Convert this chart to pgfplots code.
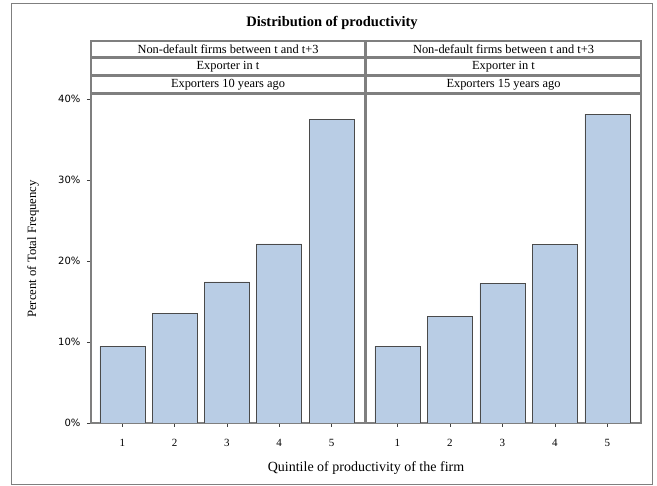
\documentclass[border=0pt]{standalone}
\usepackage{pgfplots}
\pgfplotsset{compat=1.18}
\usepackage{fontspec}
\setmainfont{Liberation Serif}
\newfontfamily\tickfont{DejaVu Sans}
\definecolor{barfill}{HTML}{B9CDE5}
\definecolor{baredge}{HTML}{4A4A4A}
\definecolor{framegray}{HTML}{7F7F7F}
\pgfplotstableread{
q pct
1 9.45
2 13.5
3 17.4
4 22.1
5 37.5
}\leftdata
\pgfplotstableread{
q pct
1 9.45
2 13.2
3 17.2
4 22.0
5 38.1
}\rightdata
\begin{document}
\begin{tikzpicture}[x=1pt,y=1pt]
\useasboundingbox (0,0) rectangle (657,486);
\fill[white] (0,0) rectangle (657,486);
\draw[framegray, line width=1pt] (11,1) rectangle (652.5,482);
\node[font=\bfseries\fontsize{14.5}{16}\selectfont] at (332,463) {Distribution of productivity};
% strips
\foreach \xa/\xb/\lab in {91/365/{Exporters 10 years ago},366/641/{Exporters 15 years ago}}{
  \draw[framegray, line width=1.5pt] (\xa,429) rectangle (\xb,445);
  \draw[framegray, line width=1.5pt] (\xa,411) rectangle (\xb,427.5);
  \draw[framegray, line width=1.5pt] (\xa,393.5) rectangle (\xb,409.5);
  \node[font=\fontsize{12.4}{13}\selectfont] at ({(\xa+\xb)/2},437) {Non-default firms between t and t+3};
  \node[font=\fontsize{12.4}{13}\selectfont] at ({(\xa+\xb)/2},419.25) {Exporter in t};
  \node[font=\fontsize{12.4}{13}\selectfont] at ({(\xa+\xb)/2},401.5) {\lab};
}
\pgfplotsset{
  panel/.style={
    scale only axis, anchor=south west,
    height=329pt,
    xmin=0.4, xmax=5.64, ymin=0, ymax=40.6,
    axis line style={framegray, line width=1.3pt},
    xtick={1,2,3,4,5}, xticklabels={1,2,3,4,5},
    tick align=outside, major tick length=4pt,
    tick style={black!75, line width=0.6pt},
    xtick pos=bottom, ytick pos=left,
    xticklabel style={font=\fontsize{11}{12}\selectfont, yshift=-9pt},
    yticklabel style={font=\tickfont\fontsize{10}{12}\selectfont, xshift=-3pt},
    ybar, bar width=0.86,
  }
}
\begin{axis}[panel, at={(91pt,63pt)}, width=274pt,
  ytick={0,10,20,30,40}, yticklabels={0\%,10\%,20\%,30\%,40\%}]
\addplot[fill=barfill, draw=baredge, line width=0.7pt] table[x=q,y=pct]{\leftdata};
\draw[black!80, line width=0.8pt] (axis cs:0.4,0) -- (axis cs:5.64,0);
\end{axis}
\begin{axis}[panel, at={(366pt,63pt)}, width=275pt, ytick=\empty]
\addplot[fill=barfill, draw=baredge, line width=0.7pt] table[x=q,y=pct]{\rightdata};
\draw[black!80, line width=0.8pt] (axis cs:0.4,0) -- (axis cs:5.64,0);
\end{axis}
\node[font=\fontsize{14}{16}\selectfont] at (366,18) {Quintile of productivity of the firm};
\node[font=\fontsize{12.7}{14}\selectfont, rotate=90] at (33,237) {Percent of Total Frequency};
\end{tikzpicture}
\end{document}
